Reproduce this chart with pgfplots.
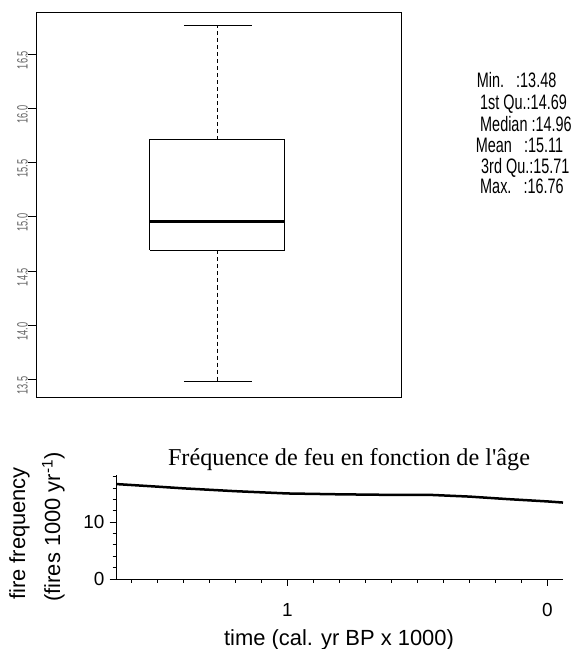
\documentclass[border=0pt]{standalone}
\usepackage{pgfplots}
\pgfplotsset{compat=1.18}
\usepackage{fontspec}
\setmainfont{Liberation Sans}
\newfontfamily\serifT{Liberation Serif}
\newfontfamily\condS[FakeStretch=0.69]{Liberation Sans}
\newfontfamily\tickS[FakeStretch=0.62]{Liberation Sans}
\begin{document}
\begin{tikzpicture}[x=1bp,y=1bp]
\path[use as bounding box] (0,0) rectangle (573,649);
% ---------- box plot ----------
\begin{axis}[at={(36bp,252bp)}, anchor=south west, width=365bp, height=385bp, scale only axis,
  xmin=0, xmax=1, ymin=13.34, ymax=16.888,
  xtick=\empty,
  ytick={13.5,14,14.5,15,15.5,16,16.5},
  yticklabels={13.5,14.0,14.5,15.0,15.5,16.0,16.5},
  tick align=outside, major tick length=8bp,
  axis line style={line width=0.8bp},
  tick style={line width=0.8bp, black},
  yticklabel style={rotate=90, anchor=south, inner sep=0pt, color=black!60, xshift=-6bp,
    font=\tickS\fontsize{15}{17}\selectfont},
  ytick pos=left,
  clip=false]
\addplot[black, line width=1bp, forget plot] coordinates {(0.312,14.69) (0.682,14.69) (0.682,15.71) (0.312,15.71) (0.312,14.69)};
\addplot[black, line width=3bp, forget plot] coordinates {(0.312,14.96) (0.682,14.96)};
\addplot[black, line width=0.9bp, dash pattern=on 4bp off 3bp, forget plot] coordinates {(0.497,15.71) (0.497,16.76)};
\addplot[black, line width=0.9bp, dash pattern=on 4bp off 3bp, forget plot] coordinates {(0.497,14.69) (0.497,13.48)};
\addplot[black, line width=1.2bp, forget plot] coordinates {(0.405,16.76) (0.592,16.76)};
\addplot[black, line width=1.2bp, forget plot] coordinates {(0.405,13.48) (0.592,13.48)};
\end{axis}
% ---------- summary text ----------
\begin{scope}[every node/.style={anchor=base west, inner sep=0pt, font=\condS\fontsize{21}{24}\selectfont}]
\node at (476.7,561) {Min.~~~:13.48};
\node at (480,539) {1st Qu.:14.69};
\node at (480,517.7) {Median :14.96};
\node at (475.7,496.7) {Mean~~~:15.11};
\node at (481,475.7) {3rd Qu.:15.71};
\node at (480,455) {Max.~~~:16.76};
\end{scope}
% ---------- fire frequency ----------
\begin{axis}[at={(116.7bp,70bp)}, anchor=south west, width=446.3bp, height=104bp, scale only axis,
  axis lines=left, axis line style={-, line width=0.9bp},
  x dir=reverse, xmin=-0.06, xmax=1.657, ymin=0, ymax=18.3,
  xtick={0,1}, xticklabels={0,1},
  minor xtick={0.1,0.2,0.3,0.4,0.5,0.6,0.7,0.8,0.9,1.1,1.2,1.3,1.4,1.5,1.6},
  ytick={0,10}, yticklabels={0,10},
  minor ytick={2,4,6,8,12,14,16,18},
  tick align=outside, major tick length=7bp, minor tick length=4bp,
  tick style={line width=0.8bp, black},
  ticklabel style={font=\fontsize{19}{22}\selectfont, inner sep=0pt},
  xticklabel style={anchor=north, yshift=-17bp},
  yticklabel style={anchor=east, xshift=-5bp},
  clip=false]
\addplot[black, line width=2.5bp, forget plot] coordinates {
(1.657,16.7) (1.5,16.25) (1.4,15.95) (1.2,15.45) (1.0,15.05) (0.8,14.9) (0.6,14.8)
(0.45,14.8) (0.3,14.5) (0.15,14.05) (0.0,13.65) (-0.06,13.45)};
\end{axis}
\node[anchor=base, inner sep=0pt, font=\serifT\fontsize{24.3}{27}\selectfont] at (349,183.3) {Fréquence de feu en fonction de l'âge};
\node[anchor=base, inner sep=0pt, rotate=90, font=\fontsize{22}{25}\selectfont] at (25,115.5) {fire frequency};
\node[anchor=base, inner sep=0pt, rotate=90, font=\fontsize{22}{25}\selectfont] at (60,122) {(fires 1000 yr\textsuperscript{-1})};
\node[anchor=base, inner sep=0pt, font=\fontsize{22}{25}\selectfont] at (339,3.5) {time (cal. yr BP x 1000)};
\end{tikzpicture}
\end{document}
